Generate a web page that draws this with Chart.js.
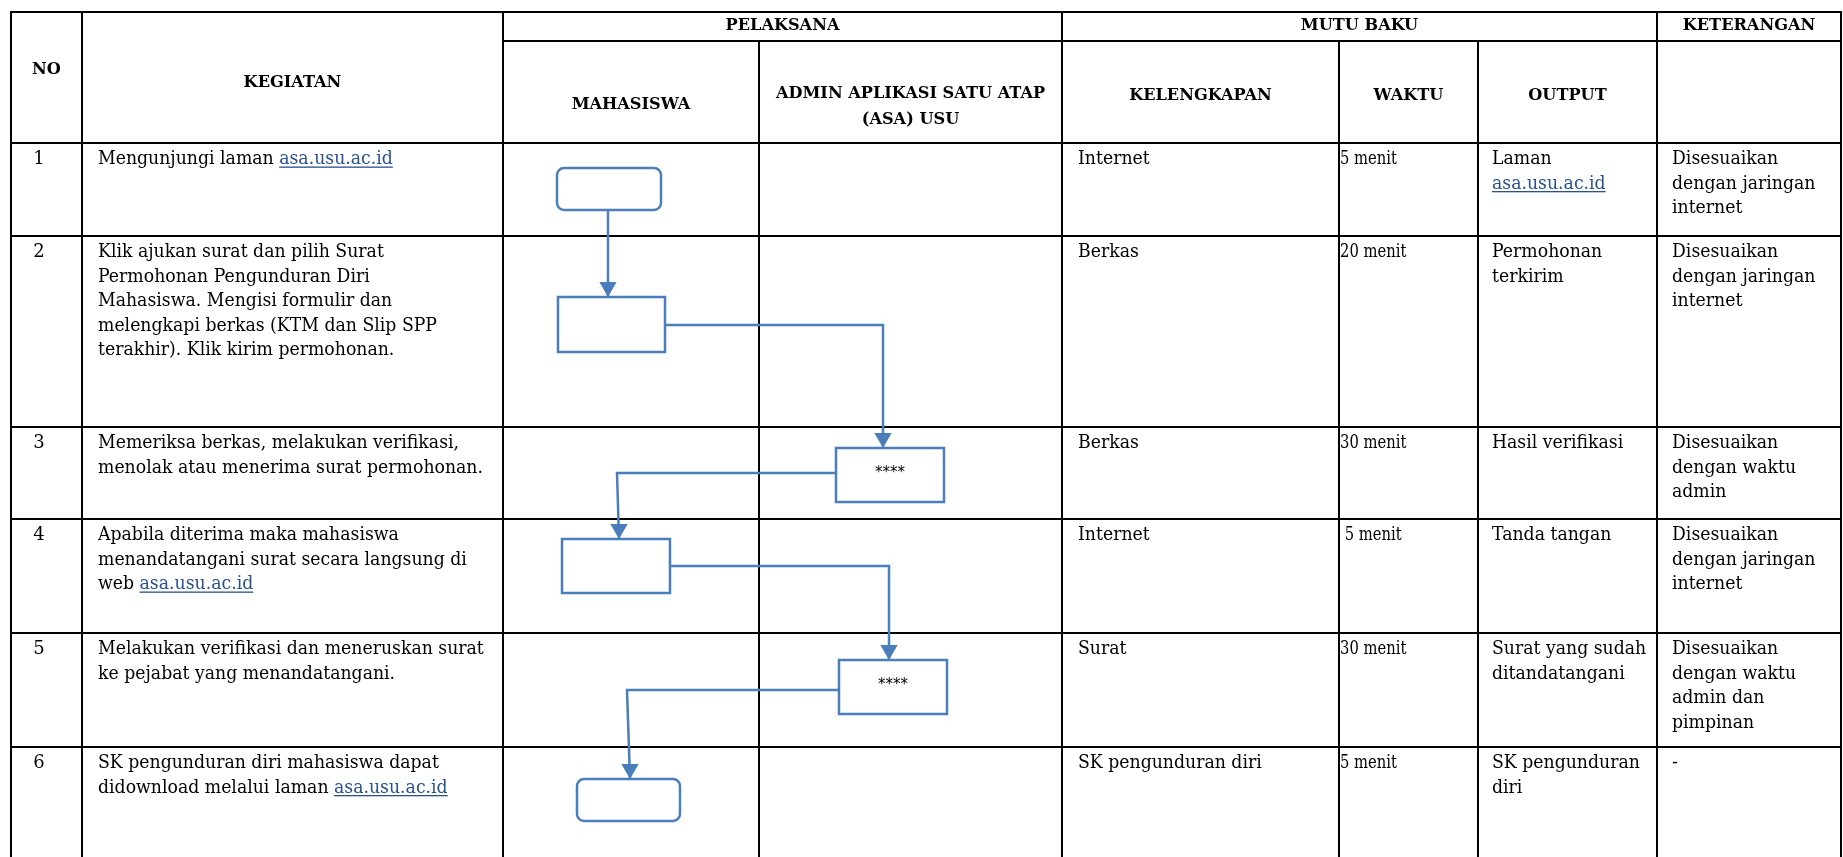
<!DOCTYPE html>
<html>
<head>
<meta charset="utf-8">
<script src="https://cdn.jsdelivr.net/npm/chart.js@4.4.1/dist/chart.umd.min.js"></script>
<style>
  html, body { margin: 0; padding: 0; background: #fff; }
  #wrap { width: 1843px; height: 857px; }
</style>
</head>
<body>
<div id="wrap"><canvas id="sopChart" width="1843" height="857"></canvas></div>
<script>
// table structure (data units = page pixels)
const colEdges = [11, 82, 503, 759, 1062, 1339, 1478, 1657, 1841];
const headTop = 12, headMid = 41;
const rowEdges = [143, 236, 427, 519, 633, 747, 857];

// header labels
const groupHeaders = [
  { text: ['PELAKSANA'], from: 2, to: 4, y: 26 },
  { text: ['MUTU BAKU'], from: 4, to: 7, y: 26 },
  { text: ['KETERANGAN'], from: 7, to: 8, y: 26 }
];
const columnHeaders = [
  { text: ['NO'], from: 0, to: 1, y: 70 },
  { text: ['KEGIATAN'], from: 1, to: 2, y: 83 },
  { text: ['MAHASISWA'], from: 2, to: 3, y: 105 },
  { text: ['ADMIN APLIKASI SATU ATAP', '(ASA) USU'], from: 3, to: 4, y: 107 },
  { text: ['KELENGKAPAN'], from: 4, to: 5, y: 96 },
  { text: ['WAKTU'], from: 5, to: 6, y: 96 },
  { text: ['OUTPUT'], from: 6, to: 7, y: 96 }
];

// row contents ({...} = link)
const noLabels = ['1', '2', '3', '4', '5', '6'];
const kegiatan = [
  ['Mengunjungi laman {asa.usu.ac.id}'],
  ['Klik ajukan surat dan pilih Surat', 'Permohonan Pengunduran Diri', 'Mahasiswa. Mengisi formulir dan', 'melengkapi berkas (KTM dan Slip SPP', 'terakhir). Klik kirim permohonan.'],
  ['Memeriksa berkas, melakukan verifikasi,', 'menolak atau menerima surat permohonan.'],
  ['Apabila diterima maka mahasiswa', 'menandatangani surat secara langsung di', 'web {asa.usu.ac.id}'],
  ['Melakukan verifikasi dan meneruskan surat', 'ke pejabat yang menandatangani.'],
  ['SK pengunduran diri mahasiswa dapat', 'didownload melalui laman {asa.usu.ac.id}']
];
const kelengkapan = [['Internet'], ['Berkas'], ['Berkas'], ['Internet'], ['Surat'], ['SK pengunduran diri']];
const waktu = [['5 menit'], ['20 menit'], ['30 menit'], [' 5 menit'], ['30 menit'], ['5 menit']];
const outputs = [['Laman', '{asa.usu.ac.id}'], ['Permohonan', 'terkirim'], ['Hasil verifikasi'], ['Tanda tangan'], ['Surat yang sudah', 'ditandatangani'], ['SK pengunduran', 'diri']];
const keterangan = [
  ['Disesuaikan', 'dengan jaringan', 'internet'],
  ['Disesuaikan', 'dengan jaringan', 'internet'],
  ['Disesuaikan', 'dengan waktu', 'admin'],
  ['Disesuaikan', 'dengan jaringan', 'internet'],
  ['Disesuaikan', 'dengan waktu', 'admin dan', 'pimpinan'],
  ['-']
];

// flowchart nodes: [left, top, right, bottom], rounded = terminator
const flowNodes = [
  { box: [557, 168, 661, 210], rounded: true, label: '' },
  { box: [558, 297, 665, 352], rounded: false, label: '' },
  { box: [836, 448, 944, 502], rounded: false, label: '****' },
  { box: [562, 539, 670, 593], rounded: false, label: '' },
  { box: [839, 660, 947, 714], rounded: false, label: '****' },
  { box: [577, 779, 680, 821], rounded: true, label: '' }
];
// connectors between nodes, last point is the arrow tip
const connectors = [
  [[608, 210], [608, 297]],
  [[665, 325], [883, 325], [883, 448]],
  [[836, 473], [617, 473], [619, 539]],
  [[670, 566], [889, 566], [889, 660]],
  [[839, 690], [627, 690], [630, 779]]
];

const flowBlue = '#4a7ebb';
const linkBlue = '#2a5192';
const bodyFont = '18px "DejaVu Serif"';
const headFont = 'bold 17px "DejaVu Serif"';
const bodySx = 0.96;
const headSx = 0.95;
const lineH = 24.5;

function drawRich(ctx, str, px, py, sx) {
  const parts = str.split(/(\{[^}]+\})/);
  let cx = px;
  parts.forEach(p => {
    if (!p) return;
    const link = p.startsWith('{');
    const t = link ? p.slice(1, -1) : p;
    const w = ctx.measureText(t).width * sx;
    ctx.save();
    ctx.translate(cx, py);
    ctx.scale(sx, 1);
    ctx.fillStyle = link ? linkBlue : '#000';
    ctx.fillText(t, 0, 0);
    ctx.restore();
    if (link) {
      ctx.fillStyle = linkBlue;
      ctx.fillRect(cx, py + 2.5, w, 1.3);
    }
    cx += w;
  });
}

const sopPlugin = {
  id: 'sopTable',
  beforeDatasetsDraw(chart) {
    const { ctx, scales: { x, y } } = chart;
    const last = colEdges.length - 1;
    ctx.save();
    ctx.strokeStyle = '#000';
    ctx.lineWidth = 2;
    ctx.beginPath();
    const hLine = (yy, a, b) => {
      ctx.moveTo(x.getPixelForValue(a), y.getPixelForValue(yy));
      ctx.lineTo(x.getPixelForValue(b), y.getPixelForValue(yy));
    };
    hLine(headTop, colEdges[0] - 1, colEdges[last] + 1);
    hLine(headMid, colEdges[2], colEdges[last] + 1);
    rowEdges.slice(0, -1).forEach(r => hLine(r, colEdges[0] - 1, colEdges[last] + 1));
    colEdges.forEach((c, i) => {
      const top = (i === 3 || i === 5 || i === 6) ? headMid : headTop;
      ctx.moveTo(x.getPixelForValue(c), y.getPixelForValue(top));
      ctx.lineTo(x.getPixelForValue(c), y.getPixelForValue(rowEdges[rowEdges.length - 1]));
    });
    ctx.stroke();
    ctx.restore();
  },
  afterDatasetsDraw(chart) {
    const { ctx, scales: { x, y } } = chart;
    ctx.save();

    // flow boxes
    ctx.strokeStyle = flowBlue;
    ctx.lineWidth = 2.5;
    flowNodes.forEach(n => {
      const [l, t, r, b] = n.box;
      const px = x.getPixelForValue(l), py = y.getPixelForValue(t);
      const w = x.getPixelForValue(r) - px, h = y.getPixelForValue(b) - py;
      ctx.beginPath();
      if (n.rounded) ctx.roundRect(px, py, w, h, 7);
      else ctx.rect(px, py, w, h);
      ctx.fillStyle = '#fff';
      ctx.fill();
      ctx.stroke();
      if (n.label) {
        ctx.fillStyle = '#000';
        ctx.font = '15px "DejaVu Sans"';
        ctx.textAlign = 'center';
        ctx.textBaseline = 'middle';
        ctx.fillText(n.label, px + w / 2, py + h / 2 - 2);
      }
    });

    // headers
    ctx.fillStyle = '#000';
    ctx.font = headFont;
    ctx.textAlign = 'center';
    ctx.textBaseline = 'middle';
    groupHeaders.concat(columnHeaders).forEach(hd => {
      const cx = (x.getPixelForValue(colEdges[hd.from]) + x.getPixelForValue(colEdges[hd.to])) / 2;
      const n = hd.text.length;
      hd.text.forEach((t, i) => {
        ctx.save();
        ctx.translate(cx, y.getPixelForValue(hd.y + (i - (n - 1) / 2) * 26));
        ctx.scale(headSx, 1);
        ctx.fillText(t, 0, 0);
        ctx.restore();
      });
    });

    // body rows
    ctx.font = bodyFont;
    ctx.textBaseline = 'alphabetic';
    const cols = [
      { lines: kegiatan, x: colEdges[1] + 16, sx: bodySx },
      { lines: kelengkapan, x: colEdges[4] + 16, sx: bodySx },
      { lines: waktu, x: colEdges[5] + 1, sx: 0.82 },
      { lines: outputs, x: colEdges[6] + 14, sx: bodySx },
      { lines: keterangan, x: colEdges[7] + 15, sx: bodySx }
    ];
    rowEdges.slice(0, -1).forEach((top, r) => {
      const base = top + 21;
      ctx.textAlign = 'center';
      ctx.fillStyle = '#000';
      ctx.fillText(noLabels[r], x.getPixelForValue(colEdges[0] + 28), y.getPixelForValue(base));
      ctx.textAlign = 'left';
      cols.forEach(c => {
        c.lines[r].forEach((ln, i) => {
          drawRich(ctx, ln, x.getPixelForValue(c.x), y.getPixelForValue(base + i * lineH), c.sx);
        });
      });
    });
    ctx.restore();
  }
};

const lineSets = connectors.map(pts => ({
  type: 'scatter',
  data: pts.map(p => ({ x: p[0], y: p[1] })),
  showLine: true,
  borderColor: flowBlue,
  borderWidth: 2.5,
  pointRadius: 0,
  tension: 0
}));
const arrowSet = {
  type: 'scatter',
  data: connectors.map(pts => {
    const tip = pts[pts.length - 1];
    return { x: tip[0], y: tip[1] - 10 };
  }),
  pointStyle: 'triangle',
  rotation: 180,
  pointRadius: 10,
  backgroundColor: flowBlue,
  borderColor: flowBlue,
  borderWidth: 0,
  showLine: false
};

new Chart(document.getElementById('sopChart').getContext('2d'), {
  type: 'scatter',
  data: { datasets: lineSets.concat([arrowSet]) },
  options: {
    responsive: false,
    animation: false,
    events: [],
    layout: { padding: 0, autoPadding: false },
    plugins: { legend: { display: false }, tooltip: { enabled: false }, title: { display: false } },
    scales: {
      x: { type: 'linear', min: 0, max: 1843, display: false },
      y: { type: 'linear', min: 0, max: 857, reverse: true, display: false }
    }
  },
  plugins: [sopPlugin]
});
</script>
</body>
</html>
